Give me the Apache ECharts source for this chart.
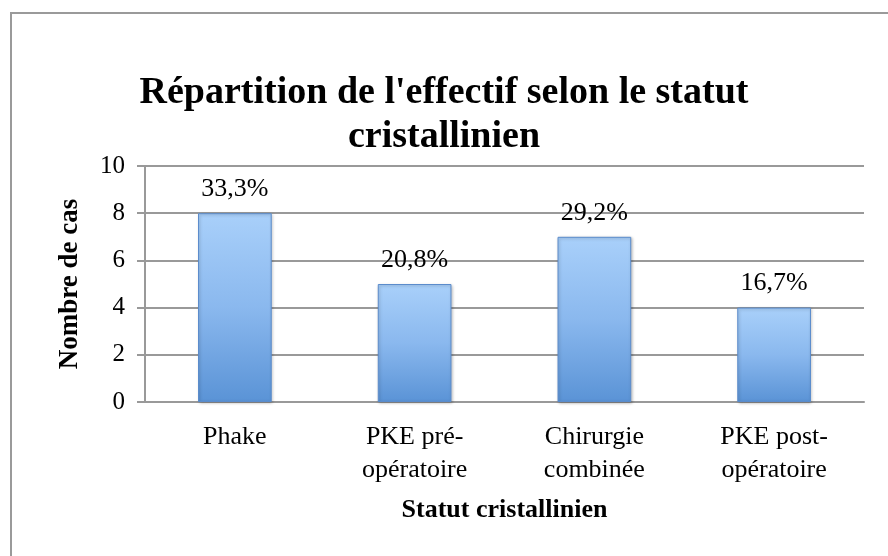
<!DOCTYPE html>
<html>
<head>
<meta charset="utf-8">
<script src="https://cdn.jsdelivr.net/npm/echarts@6/dist/echarts.min.js"></script>
<style>
  html, body { margin:0; padding:0; background:#fff; }
  #chart { width:888px; height:556px; }
</style>
</head>
<body>
<div id="chart"></div>
<script>
// data
const categories = ['Phake', 'PKE pré-\nopératoire', 'Chirurgie\ncombinée', 'PKE post-\nopératoire'];
const counts = [8, 5, 7, 4];
const percents = ['33,3%', '20,8%', '29,2%', '16,7%'];
const yTicks = { min: 0, max: 10, step: 2 };

const font = 'Liberation Serif';
const chart = echarts.init(document.getElementById('chart'));

chart.setOption({
  animation: false,
  textStyle: { fontFamily: font, color: '#000' },
  title: {
    text: "Répartition de l'effectif selon le statut\ncristallinien",
    left: 'center',
    top: 66,
    textStyle: { fontFamily: font, fontWeight: 'bold', fontSize: 38, lineHeight: 44, color: '#000' }
  },
  graphic: [{
    type: 'rect',
    shape: { x: 11, y: 13, width: 900, height: 600 },
    style: { fill: 'none', stroke: '#9a9a9a', lineWidth: 2 },
    silent: true
  }],
  grid: { left: 145, right: 24, top: 166, bottom: 154 },
  xAxis: {
    type: 'category',
    data: categories,
    name: 'Statut cristallinien',
    nameLocation: 'middle',
    nameGap: 95,
    nameTextStyle: { fontFamily: font, fontWeight: 'bold', fontSize: 26, color: '#000' },
    axisLine: { lineStyle: { color: '#999', width: 2 } },
    axisTick: { show: false },
    axisLabel: { fontFamily: font, fontSize: 26, color: '#000', lineHeight: 33, margin: 19, interval: 0 }
  },
  yAxis: {
    type: 'value',
    min: yTicks.min,
    max: yTicks.max,
    interval: yTicks.step,
    name: 'Nombre de cas',
    nameLocation: 'middle',
    nameGap: 61,
    nameRotate: 90,
    nameTextStyle: { fontFamily: font, fontWeight: 'bold', fontSize: 27, color: '#000' },
    axisLine: { show: true, lineStyle: { color: '#999', width: 2 } },
    axisTick: { show: true, length: 8, lineStyle: { color: '#999', width: 2 } },
    splitLine: { lineStyle: { color: '#999', width: 2 } },
    axisLabel: { fontFamily: font, fontSize: 25, color: '#000', margin: 20 }
  },
  series: [{
    type: 'bar',
    data: counts,
    barWidth: '41%',
    itemStyle: {
      color: new echarts.graphic.LinearGradient(0, 0, 0, 1, [
        { offset: 0, color: '#a9d0fa' },
        { offset: 0.5, color: '#8ab8ee' },
        { offset: 1, color: '#5a93d6' }
      ]),
      borderColor: '#5b8ccc',
      borderWidth: 1,
      shadowColor: 'rgba(0,0,0,0.25)',
      shadowBlur: 3,
      shadowOffsetX: 1,
      shadowOffsetY: 1
    },
    label: {
      show: true,
      position: 'top',
      distance: 11,
      fontFamily: font,
      fontSize: 26,
      color: '#000',
      formatter: p => percents[p.dataIndex]
    }
  }]
});
</script>
</body>
</html>
